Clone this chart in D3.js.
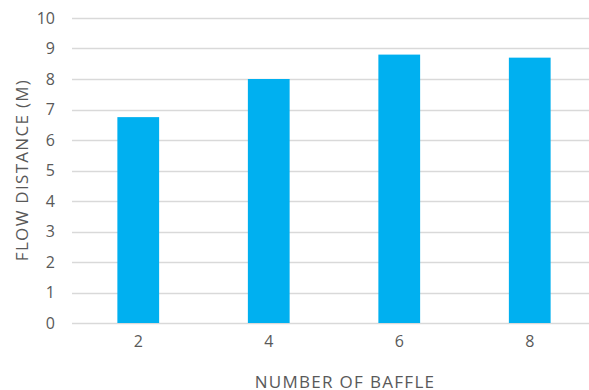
<!DOCTYPE html>
<html>
<head>
<meta charset="utf-8">
<script src="https://cdn.jsdelivr.net/npm/d3@7"></script>
<style>
  html, body { margin: 0; padding: 0; background: #fff; }
  svg { display: block; }
  text { font-family: "Open Sans", Lato, sans-serif; fill: #595959; }
</style>
</head>
<body>
<svg id="chart" width="589" height="390"></svg>
<script>
// Flow distance by number of baffles
const baffles = ["2", "4", "6", "8"];
const flowDistance = [6.75, 8.0, 8.8, 8.7];
const yTicks = [0, 1, 2, 3, 4, 5, 6, 7, 8, 9, 10];
const xTitle = "NUMBER OF BAFFLE";
const yTitle = "FLOW DISTANCE (M)";

const svg = d3.select("#chart");
const W = 589, H = 390;
const margin = { top: 18, right: -6, bottom: 67, left: 73 };
const innerW = W - margin.left - margin.right;
const innerH = H - margin.top - margin.bottom;
const FONT = "'Open Sans', Lato, sans-serif";

const x = d3.scaleBand()
  .domain(baffles)
  .range([margin.left, margin.left + innerW])
  .paddingInner(0.68)
  .paddingOuter(0.34);

const y = d3.scaleLinear()
  .domain([0, 10])
  .range([margin.top + innerH, margin.top]);

// horizontal gridlines
svg.append("g")
  .selectAll("line")
  .data(yTicks)
  .join("line")
  .attr("x1", margin.left - 1)
  .attr("x2", W)
  .attr("y1", d => Math.round(y(d)) + 0.5)
  .attr("y2", d => Math.round(y(d)) + 0.5)
  .attr("stroke", "#d9d9d9")
  .attr("stroke-width", 1.3);

// bars
svg.append("g")
  .selectAll("rect")
  .data(baffles.map((b, i) => ({ b, v: flowDistance[i] })))
  .join("rect")
  .attr("x", d => x(d.b))
  .attr("width", x.bandwidth())
  .attr("y", d => y(d.v))
  .attr("height", d => y(0) - y(d.v))
  .attr("fill", "#00b0f0");

// y-axis labels
const yAxis = svg.append("g")
  .attr("transform", `translate(${margin.left - 18},0)`)
  .call(d3.axisLeft(y).tickValues(yTicks).tickSize(0).tickPadding(0));
yAxis.select(".domain").remove();
yAxis.selectAll("text")
  .attr("font-size", 16)
  .attr("font-family", FONT)
  .attr("fill", "#595959");

// x-axis labels
const xAxis = svg.append("g")
  .attr("transform", `translate(0,${y(0) + 13})`)
  .call(d3.axisBottom(x).tickSize(0).tickPadding(0));
xAxis.select(".domain").remove();
xAxis.selectAll("text")
  .attr("font-size", 16)
  .attr("font-family", FONT)
  .attr("fill", "#595959");

// axis titles
svg.append("text")
  .attr("x", 345)
  .attr("y", 387.5)
  .attr("text-anchor", "middle")
  .attr("font-size", 17)
  .attr("letter-spacing", 1.3)
  .text(xTitle);

svg.append("text")
  .attr("transform", `translate(28,${170}) rotate(-90)`)
  .attr("text-anchor", "middle")
  .attr("font-size", 17)
  .attr("letter-spacing", 1.3)
  .text(yTitle);
</script>
</body>
</html>
